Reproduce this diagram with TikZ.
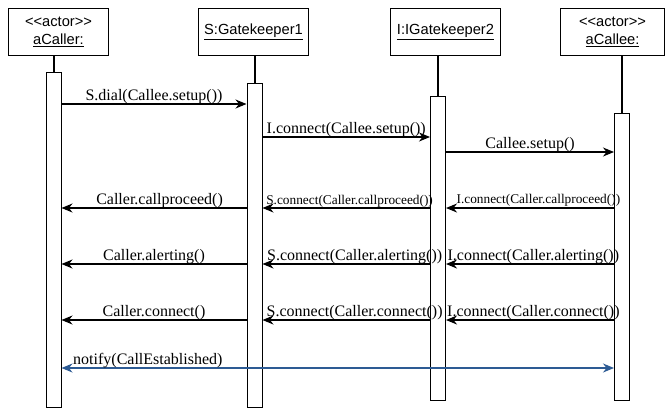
\documentclass[tikz,border=0pt]{standalone}
\usepackage{fontspec}
\setmainfont{Liberation Serif}
\newfontfamily\hdrfont{Liberation Sans}
\usetikzlibrary{arrows.meta}
\definecolor{notifyblue}{HTML}{2D5B94}
\tikzset{
  header/.style={draw, line width=1pt, minimum height=47pt, align=center,
    font=\hdrfont\fontsize{14.67}{18}\selectfont, inner sep=0pt, anchor=north west},
  bar/.style={draw, fill=white, line width=1pt, inner sep=0pt, minimum width=15pt, anchor=north},
  lifeline/.style={line width=2pt},
  msg/.style={line width=1.1pt, -{Stealth[length=11pt,width=9pt,inset=3.5pt]}},
  notifymsg/.style={line width=1.1pt, notifyblue,
    {Stealth[length=11pt,width=9pt,inset=3.5pt]}-{Stealth[length=11pt,width=9pt,inset=3.5pt]}},
  lbl/.style={font=\fontsize{16}{18}\selectfont, inner sep=0pt, anchor=base},
  slbl/.style={font=\fontsize{13.33}{15}\selectfont, inner sep=0pt, anchor=base},
}
\begin{document}
\begin{tikzpicture}[x=1pt,y=-1pt]
\useasboundingbox (0,0) rectangle (668,408);

% object headers
\node[header, minimum width=100pt] (hcaller) at (8,8) {<<actor>>\\\underline{aCaller:}};
\node[header, minimum width=110pt] (hgk1) at (198,8) {\underline{S:Gatekeeper1}};
\node[header, minimum width=110pt] (hgk2) at (390,8) {\underline{I:IGatekeeper2}};
\node[header, minimum width=104pt] (hcallee) at (560,8) {<<actor>>\\\underline{aCallee:}};

% activation bars
\node[bar, minimum height=335pt] (bcaller) at (53.5,72) {};
\node[bar, minimum height=324pt] (bgk1) at (254.5,83) {};
\node[bar, minimum height=304pt] (bgk2) at (438,96) {};
\node[bar, minimum height=287pt] (bcallee) at (622,113) {};

% lifelines
\draw[lifeline] (bcaller.north |- hcaller.south) -- (bcaller.north);
\draw[lifeline] (bgk1.north |- hgk1.south) -- (bgk1.north);
\draw[lifeline] (bgk2.north |- hgk2.south) -- (bgk2.north);
\draw[lifeline] (bcallee.north |- hcallee.south) -- (bcallee.north);

% message rows
\coordinate (r1) at (0,104);
\coordinate (r2) at (0,137);
\coordinate (r3) at (0,152);
\coordinate (r4) at (0,208);
\coordinate (r5) at (0,264);
\coordinate (r6) at (0,320);
\coordinate (r7) at (0,368);

% call setup
\draw[msg] (bcaller.east |- r1) -- (bgk1.west |- r1)
  node[lbl, pos=0.5, yshift=4pt] (m1) {S.dial(Callee.setup())};
\draw[msg] (bgk1.east |- r2) -- (bgk2.west |- r2)
  node[lbl, pos=0.5, yshift=4pt] (m2) {I.connect(Callee.setup())};
\draw[msg] (bgk2.east |- r3) -- (bcallee.west |- r3)
  node[lbl, pos=0.5, yshift=4pt] (m3) {Callee.setup()};

% call proceeding
\draw[msg] (bgk1.west |- r4) -- (bcaller.east |- r4)
  node[lbl, pos=0.47, yshift=4pt] (m4) {Caller.callproceed()};
\draw[msg] (bgk2.west |- r4) -- (bgk1.east |- r4)
  node[slbl, pos=0.48, yshift=4pt] (m5) {S.connect(Caller.callproceed())};
\draw[msg] (bcallee.west |- r4) -- (bgk2.east |- r4)
  node[slbl, pos=0.45, yshift=5pt] (m6) {I.connect(Caller.callproceed())};

% alerting
\draw[msg] (bgk1.west |- r5) -- (bcaller.east |- r5)
  node[lbl, pos=0.5, yshift=4pt] (m7) {Caller.alerting()};
\draw[msg] (bgk2.west |- r5) -- (bgk1.east |- r5)
  node[lbl, pos=0.45, yshift=4pt] (m8) {S.connect(Caller.alerting())};
\draw[msg] (bcallee.west |- r5) -- (bgk2.east |- r5)
  node[lbl, pos=0.48, yshift=4pt] (m9) {I.connect(Caller.alerting())};

% connect
\draw[msg] (bgk1.west |- r6) -- (bcaller.east |- r6)
  node[lbl, pos=0.5, yshift=4pt] (m10) {Caller.connect()};
\draw[msg] (bgk2.west |- r6) -- (bgk1.east |- r6)
  node[lbl, pos=0.45, yshift=4pt] (m11) {S.connect(Caller.connect())};
\draw[msg] (bcallee.west |- r6) -- (bgk2.east |- r6)
  node[lbl, pos=0.48, yshift=4pt] (m12) {I.connect(Caller.connect())};

% established notification
\draw[notifymsg] (bcaller.east |- r7) -- (bcallee.west |- r7);
\node[lbl, anchor=base west] (m13) at (73,364) {notify(CallEstablished)};
\end{tikzpicture}
\end{document}
